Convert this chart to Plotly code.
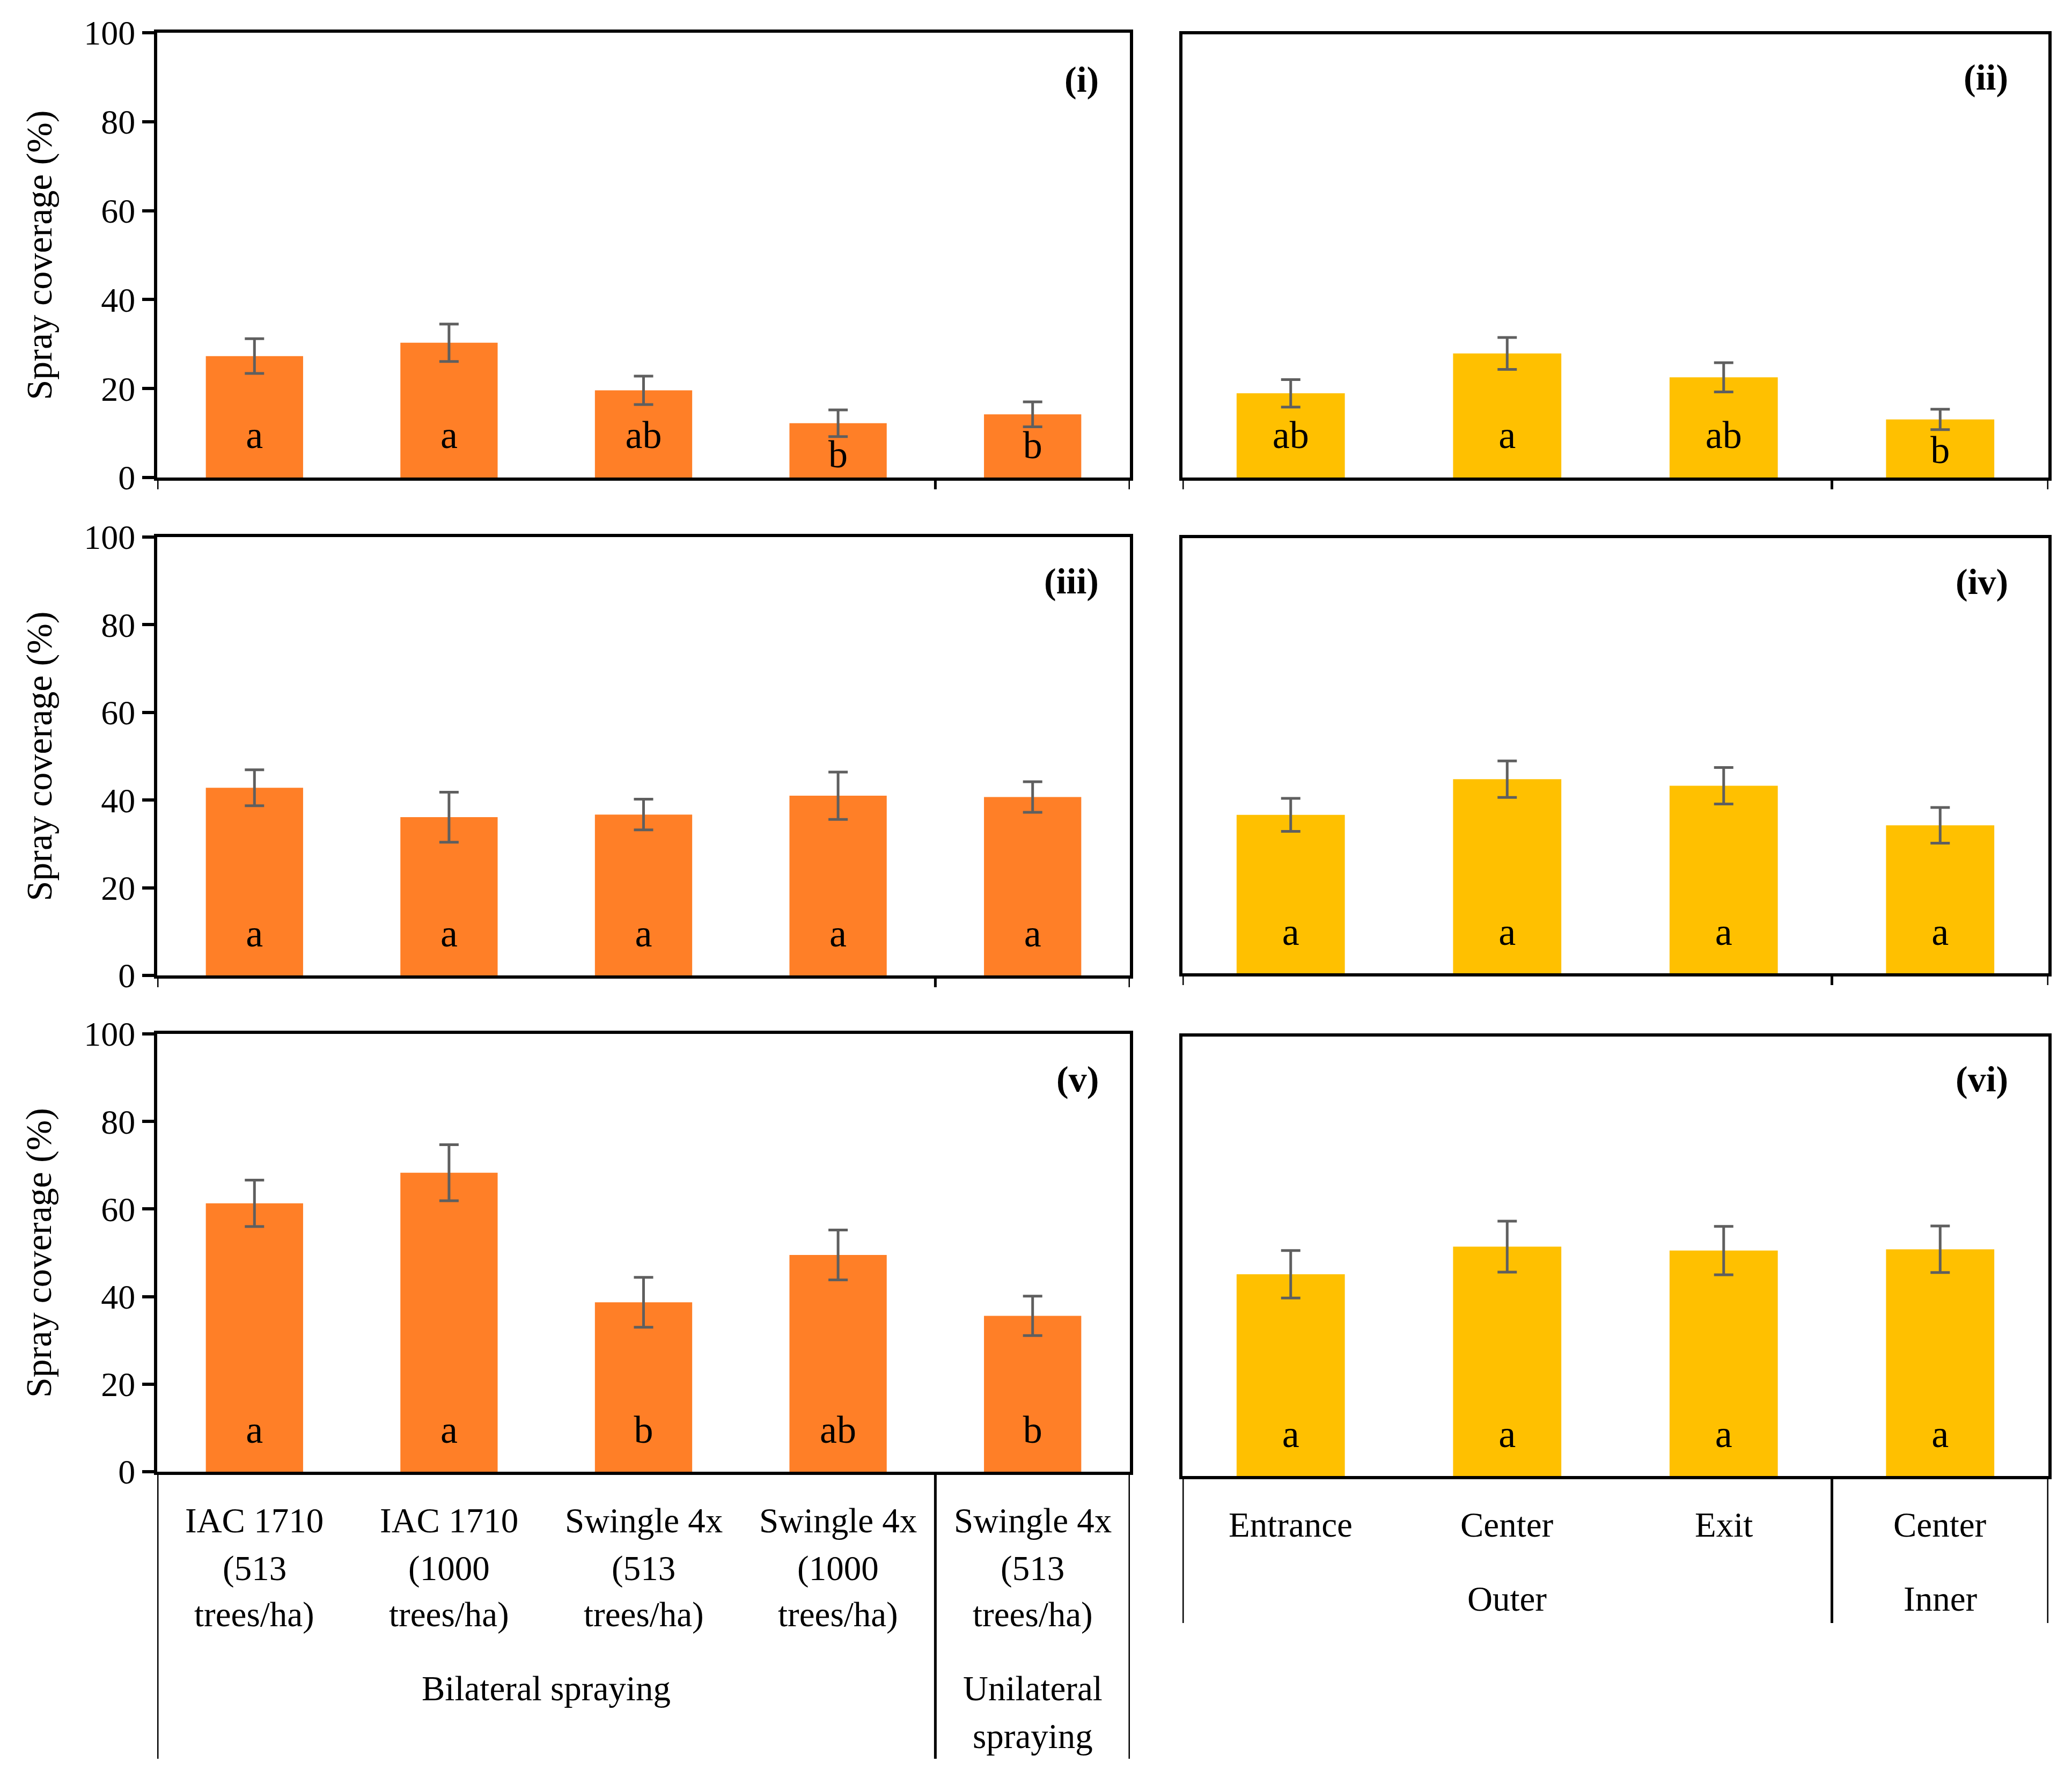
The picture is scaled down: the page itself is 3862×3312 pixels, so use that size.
import plotly.graph_objects as go

W, H = 3862, 3312
FONT = "Liberation Serif"
ORANGE = "#FF7F27"
YELLOW = "#FFC000"
ERRC = "#5F5F5F"

# ---------------- data ----------------
cats_left = ["IAC 1710\n(513\ntrees/ha)", "IAC 1710\n(1000\ntrees/ha)",
             "Swingle 4x\n(513\ntrees/ha)", "Swingle 4x\n(1000\ntrees/ha)",
             "Swingle 4x\n(513\ntrees/ha)"]
groups_left = ["Bilateral spraying", "Unilateral\nspraying"]
group_left_span = [(0, 3), (4, 4)]

cats_right = ["Entrance", "Center", "Exit", "Center"]
groups_right = ["Outer", "Inner"]
group_right_span = [(0, 2), (3, 3)]

val_i = [27.3, 30.3, 19.6, 12.2, 14.2]
err_i = [3.9, 4.2, 3.2, 3.0, 2.8]
let_i = ["a", "a", "ab", "b", "b"]

val_ii = [19.0, 28.0, 22.6, 13.1]
err_ii = [3.1, 3.6, 3.3, 2.3]
let_ii = ["ab", "a", "ab", "b"]

val_iii = [42.8, 36.1, 36.7, 41.0, 40.7]
err_iii = [4.1, 5.7, 3.5, 5.4, 3.5]
let_iii = ["a", "a", "a", "a", "a"]

val_iv = [36.4, 44.6, 43.1, 34.0]
err_iv = [3.8, 4.2, 4.2, 4.1]
let_iv = ["a", "a", "a", "a"]

val_v = [61.3, 68.3, 38.7, 49.5, 35.6]
err_v = [5.3, 6.4, 5.7, 5.7, 4.5]
let_v = ["a", "a", "b", "ab", "b"]

val_vi = [45.9, 52.2, 51.3, 51.6]
err_vi = [5.4, 5.8, 5.5, 5.3]
let_vi = ["a", "a", "a", "a"]

panel_names = ["(i)", "(ii)", "(iii)", "(iv)", "(v)", "(vi)"]
y_ticks = [0, 20, 40, 60, 80, 100]
y_title = "Spray coverage (%)"

# ---------------- layout geometry (pixels) ----------------
LEFT_X = (285, 2098)
RIGHT_X = (2196, 3810)
rows_left = [(53, 882), (993, 1810), (1919, 2735)]
rows_right = [(56, 882), (995, 1806), (1924, 2743)]

panels = [
    dict(v=val_i, e=err_i, l=let_i, side="L", row=0),
    dict(v=val_ii, e=err_ii, l=let_ii, side="R", row=0),
    dict(v=val_iii, e=err_iii, l=let_iii, side="L", row=1),
    dict(v=val_iv, e=err_iv, l=let_iv, side="R", row=1),
    dict(v=val_v, e=err_v, l=let_v, side="L", row=2),
    dict(v=val_vi, e=err_vi, l=let_vi, side="R", row=2),
]
label_pos = [(0.969, 0.895), (0.955, 0.903), (0.969, 0.90),
             (0.955, 0.90), (0.969, 0.897), (0.955, 0.904)]


def py(px):
    return 1 - px / H


fig = go.Figure()
shapes = []
annotations = []
layout = {}

for k, p in enumerate(panels, start=1):
    xn = "x" if k == 1 else f"x{k}"
    yn = "y" if k == 1 else f"y{k}"
    left = p["side"] == "L"
    xr = LEFT_X if left else RIGHT_X
    top, bot = (rows_left if left else rows_right)[p["row"]]
    n = len(p["v"])
    xs = list(range(n))
    color = ORANGE if left else YELLOW

    fig.add_trace(go.Bar(
        x=xs, y=p["v"], width=0.5,
        marker=dict(color=color, line=dict(width=0)),
        error_y=dict(type="data", array=p["e"], color=ERRC, thickness=5, width=18),
        xaxis=xn, yaxis=yn, showlegend=False))
    fig.add_trace(go.Scatter(
        x=xs, y=[min(8.8, v - 7.7) for v in p["v"]], mode="text", text=p["l"],
        textfont=dict(family=FONT, size=72, color="black"),
        xaxis=xn, yaxis=yn, showlegend=False, hoverinfo="skip"))

    layout["xaxis" if k == 1 else f"xaxis{k}"] = dict(
        domain=[xr[0] / W, xr[1] / W], range=[-0.5, n - 0.5], anchor=yn,
        showline=True, mirror=True, linecolor="black", linewidth=6,
        ticks="", showticklabels=False, showgrid=False, zeroline=False,
        automargin=False)
    layout["yaxis" if k == 1 else f"yaxis{k}"] = dict(
        domain=[py(bot), py(top)], range=[0, 100], anchor=xn,
        showline=True, mirror=True, linecolor="black", linewidth=6,
        ticks="outside" if left else "", ticklen=22, tickwidth=6, tickcolor="black",
        tickvals=y_ticks, showticklabels=left,
        tickfont=dict(family=FONT, size=64, color="black"),
        showgrid=False, zeroline=False, automargin=False)

    # panel label
    annotations.append(dict(
        text=f"<b>{panel_names[k-1]}</b>", xref=f"{xn} domain", yref=f"{yn} domain",
        x=label_pos[k-1][0], y=label_pos[k-1][1], xanchor="right", yanchor="middle",
        showarrow=False, font=dict(family=FONT, size=68, color="black")))

    spans = group_left_span if left else group_right_span
    bounds = [-0.5] + [s[1] + 0.5 for s in spans]
    if p["row"] < 2:
        hpx = bot - top
        for b in bounds:
            shapes.append(dict(type="line", xref=xn, yref=f"{yn} domain",
                               x0=b, x1=b, y0=0, y1=-22 / hpx,
                               line=dict(color="black", width=5)))
    else:
        end_px = 3270 if left else 3017
        for b in bounds:
            shapes.append(dict(type="line", xref=xn, yref="paper",
                               x0=b, x1=b, y0=py(bot), y1=py(end_px),
                               line=dict(color="black", width=5)))
        cats = cats_left if left else cats_right
        groups = groups_left if left else groups_right
        line_px = [2826, 2915, 3001] if left else [2834]
        grp_px = [3139, 3228] if left else [2972]
        for i, c in enumerate(cats):
            for j, t in enumerate(c.split("\n")):
                annotations.append(dict(
                    text=t, xref=xn, yref="paper", x=i, y=py(line_px[j]),
                    xanchor="center", yanchor="middle", showarrow=False,
                    font=dict(family=FONT, size=65, color="black")))
        for g, (a, b) in zip(groups, spans):
            for j, t in enumerate(g.split("\n")):
                annotations.append(dict(
                    text=t, xref=xn, yref="paper", x=(a + b) / 2, y=py(grp_px[j]),
                    xanchor="center", yanchor="middle", showarrow=False,
                    font=dict(family=FONT, size=65, color="black")))

    if left:
        annotations.append(dict(
            text=y_title, xref="paper", yref="paper", x=64 / W, y=py((top + bot) / 2),
            xanchor="center", yanchor="middle", textangle=-90, showarrow=False,
            font=dict(family=FONT, size=68, color="black")))

fig.update_layout(
    width=W, height=H, margin=dict(l=0, r=0, t=0, b=0, autoexpand=False),
    paper_bgcolor="white", plot_bgcolor="white",
    shapes=shapes, annotations=annotations,
    **layout)

fig.write_html("out.html")
